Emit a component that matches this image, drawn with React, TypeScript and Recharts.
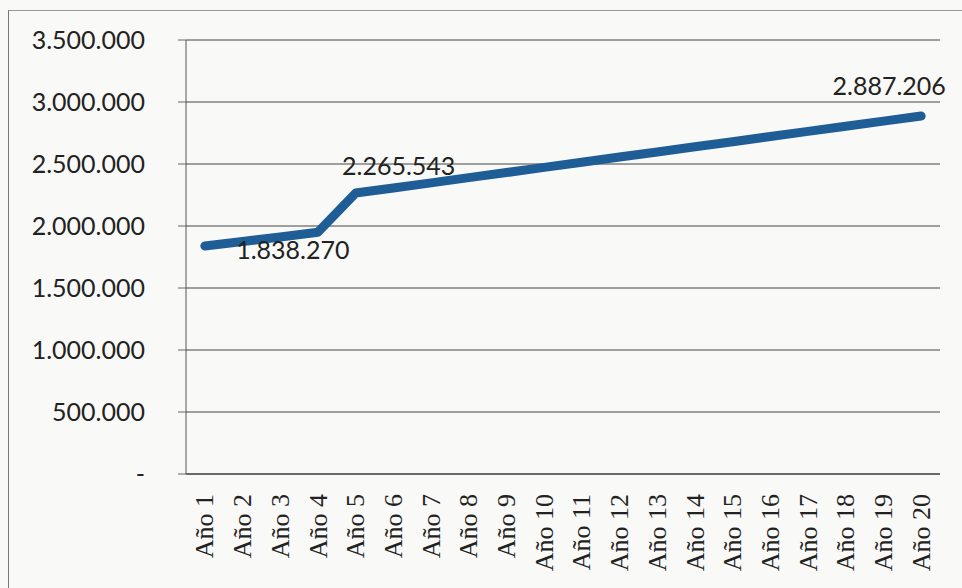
import React from 'react';
import { LineChart, Line, XAxis, YAxis, CartesianGrid, LabelList } from 'recharts';

const categories = [
  'Año 1', 'Año 2', 'Año 3', 'Año 4', 'Año 5', 'Año 6', 'Año 7', 'Año 8', 'Año 9', 'Año 10',
  'Año 11', 'Año 12', 'Año 13', 'Año 14', 'Año 15', 'Año 16', 'Año 17', 'Año 18', 'Año 19', 'Año 20',
];

const values = [
  1838270, 1875000, 1912000, 1950000, 2265543, 2307000, 2348000, 2390000, 2431000, 2473000,
  2514000, 2556000, 2597000, 2639000, 2680000, 2722000, 2763000, 2805000, 2846000, 2887206,
];

const yTicks = [0, 500000, 1000000, 1500000, 2000000, 2500000, 3000000, 3500000];

// indices of the points that carry a data label
const labelled = [0, 4, 19];

// category boundaries, used for the tick marks between categories
const boundaries = [0, 1, 2, 3, 4, 5, 6, 7, 8, 9, 10, 11, 12, 13, 14, 15, 16, 17, 18, 19, 20];

const data = categories.map((name, i) => ({ name, value: values[i] }));

const fmt = (v: number) => (v === 0 ? '-' : String(v).replace(/\B(?=(\d{3})+(?!\d))/g, '.'));

const NUM_FONT = 'Lato, sans-serif';
const CAT_FONT = '"Liberation Serif", serif';

// label nudges, roughly where they sit in the original
const labelShift: Record<number, [number, number]> = {
  0: [88, 3],
  4: [43, -28],
  19: [-32, -31],
};

const DataLabel = (props: any) => {
  const { x, y, index, value } = props;
  if (!labelled.includes(index)) return null;
  const [dx, dy] = labelShift[index] || [0, 0];
  return (
    <text
      x={x + dx}
      y={y + dy}
      textAnchor="middle"
      dominantBaseline="central"
      fill="#222"
      fontSize={25}
      fontFamily={NUM_FONT}
    >
      {fmt(value)}
    </text>
  );
};

const CatTick = ({ x, y, payload }: any) => (
  <g transform={`translate(${x},${y})`}>
    <text
      transform="rotate(-90)"
      textAnchor="end"
      dy="0.33em"
      fill="#222"
      fontSize={26}
      fontFamily={CAT_FONT}
    >
      {payload.value}
    </text>
  </g>
);

export default function App() {
  return (
    <div
      style={{
        position: 'absolute',
        left: 0,
        top: 0,
        width: 962,
        height: 588,
        background: '#f9f9f7',
        overflow: 'hidden',
      }}
    >
      <div
        style={{
          position: 'absolute',
          left: 8,
          top: 10,
          width: 980,
          height: 600,
          borderLeft: '1px solid #777',
          borderTop: '1px solid #999',
        }}
      />
      <div style={{ position: 'absolute', left: 8, top: 8 }}>
        <LineChart width={946} height={572} data={data} margin={{ top: 32, right: 14, left: 0, bottom: 0 }}>
          <CartesianGrid xAxisId="cat" vertical={false} stroke="#444" strokeWidth={1} />
          <XAxis
            xAxisId="b"
            type="number"
            domain={[0, 20]}
            ticks={boundaries}
            tick={false}
            tickSize={8}
            height={1}
            axisLine={{ stroke: '#333' }}
            tickLine={{ stroke: '#444' }}
          />
          <XAxis
            xAxisId="cat"
            dataKey="name"
            scale="band"
            interval={0}
            axisLine={false}
            tickLine={false}
            tickSize={0}
            tickMargin={19}
            height={105}
            tick={<CatTick />}
          />
          <YAxis
            domain={[0, 3500000]}
            ticks={yTicks}
            width={178}
            tickFormatter={fmt}
            tickSize={8}
            tickMargin={33}
            axisLine={{ stroke: '#555' }}
            tickLine={{ stroke: '#666' }}
            tick={{ fill: '#222', fontSize: 25, fontFamily: NUM_FONT }}
          />
          <Line
            xAxisId="cat"
            type="linear"
            dataKey="value"
            stroke="#1f5d96"
            strokeWidth={9}
            strokeLinecap="round"
            strokeLinejoin="round"
            dot={false}
            activeDot={false}
            isAnimationActive={false}
          >
            <LabelList dataKey="value" content={<DataLabel />} />
          </Line>
        </LineChart>
      </div>
    </div>
  );
}
